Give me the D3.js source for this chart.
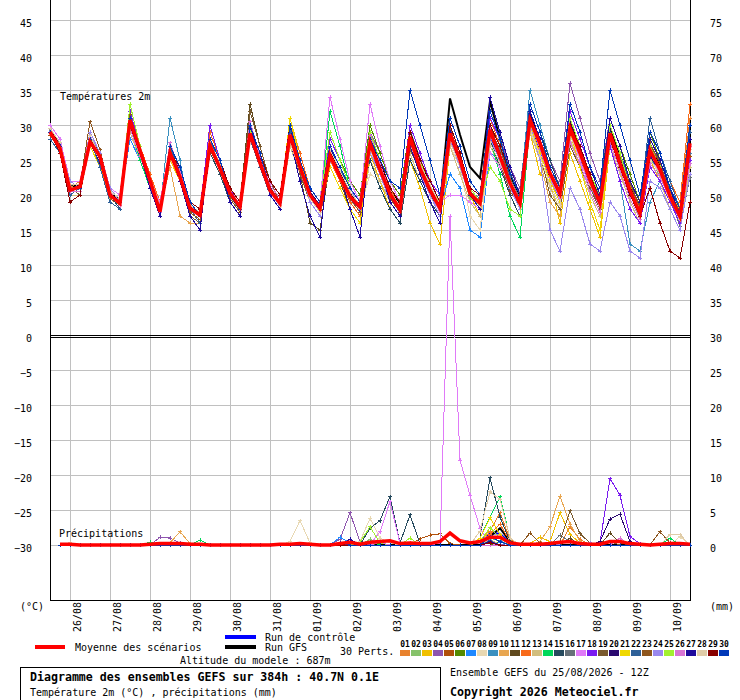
<!DOCTYPE html>
<html>
<head>
<meta charset="utf-8">
<script src="https://cdn.jsdelivr.net/npm/d3@7/dist/d3.min.js"></script>
<style>
  body { margin: 0; background: #fff; }
  text { font-family: "DejaVu Sans Mono", monospace; font-size: 10px; fill: #000; }
</style>
</head>
<body>
<svg></svg>
<script>
// time axis : 65 steps of 6h from 25/08 12Z
const dateLabels = ['26/08','27/08','28/08','29/08','30/08','31/08','01/09','02/09','03/09','04/09','05/09','06/09','07/09','08/09','09/09','10/09'];
const dateSteps = [2,6,10,14,18,22,26,30,34,38,42,46,50,54,58,62];
const tempTicks = [45,40,35,30,25,20,15,10,5,0,-5,-10,-15,-20,-25,-30];
const rightLabels = [75,70,65,60,55,50,45,40,35,30,25,20,15,10,5,0];
const memberNames = ['01','02','03','04','05','06','07','08','09','10','11','12','13','14','15','16','17','18','19','20','21','22','23','24','25','26','27','28','29','30'];
const memberColors = ['#e8822e','#86c26a','#f0c000','#8e55ae','#b0500a','#558a00','#1e88ff','#e8d8b2','#3a90c0','#e8a650',
  '#604a1e','#f86a1a','#d2be7e','#00d85a','#264a5e','#667078','#e07af8','#7a1af0','#7a5a2e','#2a0870',
  '#f0d800','#2e6098','#8e561e','#9a88ee','#a2f030','#d874d4','#1e0a9c','#e0cca8','#880000','#0038b8'];

// 2m temperature (°C), one row per perturbation
const memberTemp = [
  [29,27,21,22, 28,26,20,19, 31,27,22,18, 27,24,19,17, 28,24,21,19, 30,26,21,19, 29,25,20,18, 27,24,21,19, 28,25,21,18, 29,25,21,19, 30,26,21,19, 30,27,23,20, 32,28,24,21, 31,27,23,20, 30,26,22,18, 28,25,21,18, 31],
  [28.5,26.5,20.5,20.5, 27.5,24.5,19.5,18.5, 31.5,26.5,21.5,17.5, 25.5,22.5,17.5,16.5, 26.5,23.5,19.5,17.5, 28.5,24.5,20.5,18.5, 28.5,23.5,19.5,17.5, 25.5,22.5,19.5,17.5, 26.5,23.5,19.5,17.5, 27.5,23.5,20.5,17.5, 28.5,24.5,19.5,18.5, 28.5,25.5,21.5,18.5, 30.5,26.5,22.5,19.5, 29.5,25.5,21.5,18.5, 28.5,24.5,20.5,16.5, 25.5,22.5,19.5,16.5, 26.5],
  [29,27,21,21, 28,25,20,19, 30,26,22,18, 25,22,18,17, 27,24,20,18, 30,26,21,19, 31,26,21,19, 26,22,19,17, 26,22,18,16, 25,21,16,13, 27,24,20,17, 30,26,21,18, 29,23,22,16, 26,22,18,14, 27,23,20,17, 25,22,19,16, 24],
  [29,27,22,21, 29,26,21,20, 31,27,23,19, 27,24,19,18, 28,25,21,19, 30,26,22,20, 30,26,21,19, 28,25,21,19, 29,26,22,19, 30,26,22,19, 31,27,22,20, 31,28,24,21, 33,29,25,22, 36,31,26,22, 31,27,23,19, 28,25,21,18, 29],
  [28.5,26.5,20.5,20.5, 27.5,24.5,19.5,18.5, 30.5,25.5,21.5,17.5, 25.5,22.5,17.5,16.5, 26.5,23.5,19.5,17.5, 28.5,24.5,20.5,18.5, 27.5,23.5,19.5,17.5, 25.5,22.5,19.5,17.5, 27.5,23.5,19.5,17.5, 27.5,23.5,20.5,17.5, 28.5,24.5,20.5,18.5, 28.5,25.5,21.5,18.5, 30.5,26.5,22.5,19.5, 28.5,25.5,21.5,18.5, 28.5,24.5,20.5,17.5, 26.5,23.5,20.5,17.5, 25.5],
  [29,27,21,21, 28,25,20,19, 30,25,21,18, 25,22,17,16, 26,23,19,17, 28,24,20,18, 30,25,21,19, 28,25,22,20, 30,26,22,20, 30,26,22,20, 31,27,22,20, 27,24,20,17, 29,25,21,18, 28,24,21,18, 31,27,23,19, 29,25,21,18, 29],
  [29,27,21,21, 28,25,20,19, 28,25,21,18, 26,22,18,17, 28,25,21,19, 28,24,20,18, 27,23,19,17, 26,23,19,17, 27,23,19,17, 27,24,20,18, 23,21,15,14, 26,25,21,18, 30,27,23,20, 29,26,22,19, 28,25,21,17, 26,23,20,17, 26],
  [29,27,21,21, 28,25,20,19, 30,26,22,18, 26,23,18,17, 27,24,20,18, 28,24,20,18, 28,24,20,18, 26,23,19,18, 23,22,19,17, 27,24,20,18, 27,24,17,15, 27,24,20,17, 29,26,22,19, 28,25,21,18, 27,24,20,17, 25,23,19,16, 26],
  [29,27,20,21, 28,25,20,19, 31,27,22,18, 31,25,17,15, 27,24,20,18, 29,25,21,19, 29,24,20,18, 26,23,20,18, 27,24,20,18, 29,25,21,18, 29,25,20,19, 30,27,23,20, 35,30,25,21, 31,27,22,19, 27,22,13,12, 19,22,19,16, 26],
  [29,27,21,21, 28,25,20,19, 30,26,22,18, 24,17,16,16, 26,23,19,17, 29,25,21,19, 27,23,19,17, 26,23,19,17, 28,25,21,19, 29,25,21,18, 28,24,20,18, 29,26,22,19, 29,25,19,17, 29,26,22,19, 29,25,21,17, 26,24,20,17, 28],
  [29,27,21,21, 28,26,20,19, 31,27,22,18, 27,24,19,17, 28,25,21,19, 33,27,22,19, 29,23,16,15, 25,22,18,16, 27,23,19,17, 28,24,20,18, 29,25,21,19, 30,26,22,19, 31,27,23,20, 30,26,22,19, 29,25,21,17, 27,24,20,17, 27],
  [29,27,22,22, 29,26,21,20, 32,27,23,19, 27,24,19,18, 29,25,21,19, 30,26,21,19, 30,26,21,19, 25,22,19,17, 27,24,21,19, 29,25,21,19, 30,26,21,19, 31,27,23,20, 30,26,22,19, 31,27,23,20, 30,26,22,18, 29,26,22,19, 33],
  [28,26,20,20, 27,24,19,18, 29,25,21,17, 25,22,17,16, 26,23,19,17, 28,24,20,18, 27,23,19,17, 24,21,18,16, 25,22,19,17, 26,22,19,16, 27,23,19,17, 27,24,20,17, 29,25,21,18, 28,24,20,17, 27,23,19,16, 24,22,18,15, 24],
  [29,27,21,21, 29,26,21,20, 30,25,21,17, 27,24,19,18, 28,25,21,19, 29,25,21,19, 29,24,20,18, 32,27,21,19, 28,24,20,18, 28,25,21,18, 29,25,20,18, 28,23,17,14, 30,27,23,20, 30,26,22,19, 29,25,21,17, 26,24,20,17, 27],
  [29,27,21,21, 28,25,20,18, 30,26,21,17, 25,22,17,16, 26,23,19,17, 30,26,22,20, 30,25,21,19, 27,24,21,19, 25,21,18,16, 25,22,19,17, 30,26,21,20, 28,24,20,17, 33,29,25,21, 32,28,24,21, 31,27,22,19, 28,25,21,18, 29],
  [29.5,27.5,21.5,21.5, 28.5,25.5,20.5,19.5, 30.5,25.5,21.5,17.5, 26.5,23.5,18.5,17.5, 27.5,24.5,20.5,18.5, 29.5,25.5,21.5,19.5, 29.5,24.5,20.5,18.5, 26.5,23.5,20.5,18.5, 27.5,24.5,20.5,18.5, 28.5,24.5,21.5,18.5, 29.5,25.5,20.5,19.5, 29.5,26.5,22.5,19.5, 30.5,26.5,22.5,19.5, 29.5,25.5,21.5,18.5, 27.5,23.5,19.5,16.5, 25.5,23.5,19.5,15.5, 22.5],
  [30,28,22,22, 29,26,21,20, 31,27,22,19, 27,24,19,18, 28,25,21,19, 30,26,22,20, 30,25,21,19, 34,28,22,19, 33,27,22,19, 28,25,21,19, 20,20,19,18, 26,24,21,18, 30,26,22,19, 29,25,21,18, 28,24,20,17, 26,23,20,17, 27],
  [29,27,22,21, 29,26,21,19, 32,27,22,18, 27,24,19,18, 30,25,21,18, 30,26,22,20, 30,25,21,19, 28,25,21,19, 29,25,21,19, 30,26,22,20, 31,27,22,20, 31,28,23,20, 32,28,24,21, 32,28,24,21, 27,22,18,16, 24,22,19,16, 25],
  [29,27,21,20, 28,24,19,18, 31,26,21,17, 26,22,17,16, 27,24,19,17, 32,27,22,19, 28,23,19,17, 24,21,18,16, 26,23,19,17, 27,23,20,17, 28,24,20,18, 30,27,22,19, 30,26,20,18, 27,24,21,18, 30,26,22,18, 27,25,21,18, 30],
  [29.5,26.5,20.5,20.5, 27.5,24.5,20.5,19.5, 30.5,25.5,21.5,17.5, 26.5,23.5,18.5,17.5, 26.5,23.5,19.5,17.5, 29.5,25.5,21.5,19.5, 29.5,24.5,20.5,18.5, 26.5,23.5,20.5,18.5, 27.5,24.5,20.5,18.5, 27.5,23.5,20.5,17.5, 28.5,24.5,20.5,18.5, 29.5,25.5,21.5,18.5, 31.5,27.5,23.5,20.5, 30.5,26.5,22.5,19.5, 29.5,24.5,19.5,16.5, 25.5,23.5,19.5,16.5, 26.5],
  [29,27,21,21, 27,24,20,19, 30,26,22,18, 25,22,18,17, 27,24,20,18, 29,25,21,19, 31,25,20,18, 24,21,18,16, 26,23,19,17, 27,23,20,17, 30,26,21,19, 28,25,21,18, 30,26,22,19, 29,24,19,15, 28,24,20,17, 26,24,20,18, 30],
  [28,26,20,21, 28,24,19,18, 30,26,21,17, 27,23,18,16, 28,24,20,18, 28,24,20,18, 29,25,21,19, 27,24,20,18, 28,25,21,19, 29,25,21,19, 30,26,21,19, 30,27,23,20, 32,28,24,21, 31,27,23,20, 30,26,22,19, 31,26,22,18, 29],
  [29.5,27.5,21.5,21.5, 30.5,26.5,20.5,18.5, 31.5,26.5,21.5,17.5, 26.5,22.5,17.5,16.5, 26.5,23.5,19.5,17.5, 28.5,24.5,20.5,18.5, 28.5,23.5,19.5,17.5, 25.5,22.5,19.5,17.5, 27.5,23.5,19.5,17.5, 26.5,23.5,20.5,18.5, 28.5,24.5,20.5,18.5, 27.5,24.5,20.5,18.5, 29.5,25.5,21.5,18.5, 28.5,25.5,21.5,18.5, 28.5,25.5,21.5,18.5, 27.5,24.5,20.5,17.5, 24.5],
  [29,27,22,21, 29,26,21,19, 31,27,22,18, 26,23,19,18, 27,24,21,19, 30,26,21,19, 28,24,19,17, 27,24,21,18, 26,23,19,17, 27,23,20,17, 28,24,20,18, 28,25,21,18, 30,25,15,12, 21,18,13,12, 19,17,12,11, 22,21,18,15, 23],
  [29,27,21,21, 28,25,20,19, 33,27,22,18, 27,24,19,17, 27,24,20,18, 29,25,21,19, 30,25,21,19, 29,25,21,19, 29,25,21,19, 29,25,21,19, 30,26,21,19, 24,22,18,17, 30,27,23,20, 31,27,23,20, 30,26,21,18, 27,24,20,17, 28],
  [29.5,26.5,20.5,20.5, 28.5,25.5,20.5,18.5, 29.5,25.5,21.5,17.5, 27.5,23.5,18.5,17.5, 27.5,24.5,20.5,18.5, 30.5,25.5,21.5,19.5, 28.5,23.5,19.5,17.5, 26.5,23.5,20.5,18.5, 28.5,24.5,20.5,18.5, 27.5,23.5,20.5,17.5, 27.5,24.5,20.5,18.5, 29.5,25.5,21.5,18.5, 30.5,26.5,22.5,19.5, 27.5,24.5,20.5,17.5, 27.5,23.5,19.5,16.5, 24.5,22.5,19.5,16.5, 24.5],
  [29,27,21,21, 28,25,20,19, 31,26,21,17, 26,22,17,15, 27,24,19,17, 30,25,20,18, 28,22,17,14, 27,23,18,14, 28,24,19,17, 27,23,19,16, 29,25,20,18, 34,29,24,20, 32,28,23,20, 33,29,24,20, 31,27,22,19, 28,25,21,17, 28],
  [29.5,27.5,21.5,21.5, 28.5,25.5,20.5,19.5, 30.5,26.5,22.5,18.5, 25.5,22.5,18.5,17.5, 27.5,24.5,20.5,18.5, 28.5,24.5,20.5,18.5, 27.5,23.5,19.5,17.5, 26.5,23.5,20.5,18.5, 26.5,23.5,20.5,18.5, 28.5,24.5,21.5,18.5, 27.5,24.5,20.5,18.5, 27.5,24.5,21.5,18.5, 29.5,25.5,21.5,18.5, 28.5,25.5,21.5,18.5, 28.5,24.5,20.5,17.5, 26.5,23.5,19.5,16.5, 26.5],
  [29,26,19,20, 28,25,20,19, 30,26,22,18, 26,24,19,18, 28,25,21,19, 30,26,22,20, 30,25,21,19, 27,24,21,19, 28,25,21,19, 29,25,22,19, 30,26,21,20, 30,27,23,20, 31,27,23,20, 30,27,23,19, 28,24,20,17, 21,16,12,11, 19],
  [29,27,21,21, 28,25,20,19, 31,26,22,18, 27,24,19,17, 28,25,20,18, 30,26,21,19, 30,25,21,19, 27,24,21,19, 28,25,22,21, 35,30,25,20, 31,27,22,20, 32,28,23,20, 33,29,24,21, 33,29,24,21, 35,30,25,20, 29,26,21,18, 30]
];
const ctlTemp = [29.2,26.8,20.8,21.0, 27.8,25.4,20.2,18.8, 30.6,26.2,21.8,17.6, 26.4,22.8,18.2,17.0, 27.4,24.0,20.4,18.4, 28.6,24.6,20.6,18.6, 28.4,23.6,19.8,17.8, 25.2,22.4,19.6,17.8, 26.8,23.4,19.8,17.6, 27.6,23.6,20.4,17.8, 28.2,24.4,20.0,18.6, 28.6,25.2,21.4,18.6, 30.2,26.6,22.6,19.6, 29.4,25.6,21.6,18.6, 28.6,24.4,20.4,17.0, 25.6,23.4,19.6,16.6, 26.8];
const gfsTemp = [29.4,27.0,21.2,21.4, 28.2,25.6,20.4,19.2, 31.0,26.6,22.2,18.0, 26.2,23.0,18.4,17.2, 27.0,24.2,20.0,18.0, 29.2,25.0,21.0,18.8, 29.0,24.2,20.2,18.2, 26.4,23.2,20.2,18.2, 28.2,24.6,20.8,18.6, 29.0,25.0,21.2,18.4, 33.8,28.6,24.0,22.4, 33.4,28.0,23.0,19.6, 31.6,27.4,23.2,20.4, 30.4,26.6,22.6,19.4, 29.4,25.4,21.2,17.6, 26.8,24.2,20.4,17.2, 27.6];
const meanTemp = [29.0,26.7,20.7,21.2, 27.6,25.5,20.0,18.8, 30.7,26.4,22.1,17.6, 26.0,22.6,18.1,17.1, 27.1,23.8,20.3,18.3, 28.8,24.6,20.7,18.8, 28.6,24.0,20.0,18.1, 25.7,22.6,19.8,18.3, 27.4,23.6,20.2,17.9, 28.3,23.8,20.7,18.1, 28.8,25.0,20.2,18.8, 29.3,25.5,21.7,18.8, 30.7,27.4,23.1,20.2, 29.5,26.0,22.1,18.8, 28.8,24.5,20.7,17.4, 26.4,23.6,19.8,16.9, 27.4];

// 6h precipitation (mm), 64 steps from 25/08 18Z
const memberRain = [
  [0,0,0,0,0,0,0,0, 0,0,0,0,0,0,0,0, 0,0,0,0,0,0,0,0, 0,0,0,0,0,0,0,0, 0,0,0,0.3,0,0,0,0, 0,0,0,2,4.6,0.8,0,0, 0,0,0,2.6,0.8,0,0,0, 0,0,0,0,0,0,0,0],
  [0,0,0,0,0,0,0,0, 0,0,0,0,0,0,0,0, 0,0,0,0,0,0,0,0, 0,0,0,0,0,0,0,0.8, 0,0,0,0,0,0,0,0, 0,0,0,1,0.5,0,0,0, 0,0,0,0,0,0,0,0, 0,0,0,0,0,0,0,0],
  [0,0,0,0,0,0,0,0, 0,0,0,0,0,0,0,0, 0,0,0,0,0,0,0,0, 0,0,0,0,0,0,0,0, 0,0,0,0,0,0,0,0, 0,0,0,2.5,1,0,0,0.2, 1.1,0.5,4.6,1.5,0.3,0,0,0, 0,0,0,0,0,0,0,0],
  [0,0,0,0,0,0,0,0, 0,0,1.1,1,0.3,0,0,0, 0,0,0,0,0,0,0,0, 0,0,0,0,0.8,4.6,0.5,0, 0,0,0,0,0,0,0,0, 0,0,0,0,0,0.3,0,0, 0,0,0,0,0,0,0,0, 0,0,0,0,0,0,0,0],
  [0,0,0,0,0,0,0,0, 0,0,0,0,0,0,0,0, 0,0,0,0,0,0,0,0, 0,0,0,0,0,0,0,0, 0,0,0,0,0.9,1.4,1.6,0.2, 0,0,0,0,0,0,0,0, 0,0,0,0,0,0,0,0, 0,0,0,0,0,0,0,0],
  [0,0,0,0,0,0,0,0, 0,0,0,0,0,0,0,0, 0,0,0,0,0,0,0,0, 0,0,0,0,0,0,0,0, 0.3,0,0,0,0,0,0,0, 0,0,0,0,0.5,0,0,0, 0,0,0,0,0,0,0,0, 0,0,0,0,0,0,0,0],
  [0,0,0,0,0,0,0,0, 0,0,0,0,0,0,0,0, 0,0,0,0,0,0,0,0, 0,0,0,0,1.1,0.3,0,0, 0,0,0,0,0,0,0,0, 0,0,0,1.5,0.4,0,0,0, 0,0,0,0,0,0,0,0, 0,0,0,0,0,0,0,0],
  [0,0,0,0,0,0,0,0, 0,0,0,0,0,0,0,0, 0,0,0,0,0,0,0,0.5, 3.5,0.3,0,0,0,0,0.5,3.8, 1,0.3,0,0,0,0,0,0, 0,0,0,0,0,0,0,0, 0,0,0,0,0,0,0,0, 0,0,0,0,0,0,1.2,0],
  [0,0,0,0,0,0,0,0, 0,0,0,0,0,0,0,0, 0,0,0,0,0,0,0,0, 0,0,0,0,0,0,0,0, 0,0,0,0,0,0,0,0, 0,0,0,1,0.6,0,0,0, 0,0,0,0,0,0,0,0, 0,0,0,0,0,0,0,0],
  [0,0,0,0,0,0,0,0, 0,0,0,0.3,1.9,0.2,0,0, 0,0,0,0,0,0,0,0, 0,0,0,0,0,0,0,0, 0,0,0,0,0,0,0,0, 0,0,0,0,0,0,0,0, 0.5,2.6,7,3,0.5,0,0,0, 0,0,0,0,0,0,0,0],
  [0,0,0,0,0,0,0,0, 0,0,0,0,0,0,0,0, 0,0,0,0,0,0,0,0, 0,0,0,0,0,0,0,0, 0,0,0,0,0,0,0,0, 0,0,0,0,0,0,0,0, 0,0,0,1,0,0,0,1.7, 0.3,0,0,0,0,0,0,0],
  [0,0,0,0,0,0,0,0, 0,0,0,0,0,0,0,0, 0,0,0,0,0,0,0,0, 0,0,0,0,0,0,0,0, 0,0,0,0,0,0,0,0, 0,0,0,1.5,3,0.5,0,0, 0,0,0,0,0,0,0,0, 0,0,0,0,0,0,0,0],
  [0,0,0,0,0,0,0,0, 0,0,0,0,0,0,0,0, 0,0,0,0,0,0,0,0, 0,0,0,0,0,0,0,0, 0,0,0,0,0,0,0,0, 0,0,0,0.8,0,0,0,0, 0,0,0,0,0,0,0,0, 0,0,0,0,0,0,0,0],
  [0,0,0,0,0,0,0,0, 0,0.4,0,0,0,0,0.7,0, 0,0,0,0,0,0,0,0, 0,0,0,0,0,0,0,0.5, 0,0,0,0,0,0,0,0, 0,0,1,4,6.9,1,0,0, 0,0,0,0,0,0,0,0, 0,0,0,0,0,1,0,0],
  [0,0,0,0,0,0,0,0, 0,0,0,0,0,0,0,0, 0,0,0,0,0,0,0,0, 0,0,0,0,0,0,0,2.4, 3.5,6.9,0.3,4.3,0.2,0,0,0, 0,0,1,9.6,4,0.5,0,0, 0,0,0,0,0,0,0,0, 0,0,0,0,0,0,0,0],
  [0,0,0,0,0,0,0,0, 0,0,0,0,0,0,0,0, 0,0,0,0,0,0,0,0, 0,0,0,0,0,0,0,0, 0,0,0,0,0,0,0,0, 0,0,0,0,0,0,0,0, 0,0,1.4,0.5,0,0,0,0, 0,0,0,0,0,0,0,0],
  [0,0,0,0,0,0,0,0, 0,0,0,0,0,0,0,0, 0,0,0,0,0,0,0,0, 0,0,0,0,0,0,0,0, 1.9,6.2,0.2,0,0,0,0.3,47, 12.1,7.1,2.4,0.2,0,0,0,0, 0,0,0,0,0,0,0,0, 0,0,0,0,0,0,0,0],
  [0,0,0,0,0,0,0,0, 0,0,0,0,0,0,0,0, 0,0,0,0,0,0,0,0, 0,0,0,0,0,0,0,0, 0,0,0,0,0,0,0,0, 0,0,0,0,0,0,0,0, 0,0,0,0,0,0,0.3,9.5, 7.1,1.2,0.2,0,0,0,0,0],
  [0,0,0,0,0,0,0,0, 0,0,0,0,0,0,0,0, 0,0,0,0,0,0,0,0, 0,0,0,0,0,0,0,0, 0,0,0,0,0,0,0,0, 0,0,0,0,0,0,0,0, 0,0,0.5,4.9,1.6,0.3,0,0.5, 0,0,0,0,0,0,0,0],
  [0,0,0,0,0,0,0,0, 0,0,0,0,0,0,0,0, 0,0,0,0,0,0,0,0, 0,0,0,0,0,0,0,0, 0,0,0,0,0,0,0,0, 0,0,0,0,0,0,0,0, 0,0,0,0,0,0,0.5,3.7, 4.4,0.5,0,0,0,0,0,0],
  [0,0,0,0,0,0,0,0, 0,0,0,0,0,0,0,0, 0,0,0,0,0,0,0,0, 0,0,0,0,0,0,0,0, 0,0,0,0,0,0,0,0, 0,0,1,3.9,1.5,0,0,0, 0,0,0,0,0,0,0,0, 0,0,0,0,0,0,0,0],
  [0,0,0,0,0,0,0,0, 0,0,0,0,0,0,0,0, 0,0,0,0,0,0,0,0, 0,0,0,0,0,0,0,0, 0,0,0,0,0,0,0,0, 0,0,0,0.6,0,0,0,0, 0,0,0,0,0,0,0,0, 0,0,0,0,0,0,0,0],
  [0,0,0,0,0,0,0,0, 0,0,0,0,0,0,0,0, 0,0,0,0,0,0,0,0, 0,0,0,0,0,0,0,0, 0,0,0,0,0,0,0,0, 0,0,0,0,0,0,0,1.7, 0.3,0,0,0,0,0,0,0, 0,0,0,0,1.9,0.3,0,0],
  [0,0,0,0,0,0,0,0, 0,0,0,0,0,0,0,0, 0,0,0,0,0,0,0,0, 0,0,0,0,0,0,0,0, 0,0,0,0,0,0,0,0, 0,0,0,0,0,0,0,0, 0,0.4,0,0,0,0.3,0,0, 0,0,0,0,0,0,0,0],
  [0,0,0,0,0,0,0,0, 0,0,0,0,0,0,0,0, 0,0,0,0,0,0,0,0, 0,0,0,0,0,0,0.4,2.6, 0.3,0,0,1,0,0,0,0, 0,0,0.5,2.5,1,0,0,0, 0,0,0,0,0,0,0,0, 0,0,0,0,0,0,0,0],
  [0,0,0,0,0,0,0,0, 0,0,0,0,0,0,0,0, 0,0,0,0,0,0,0,0, 0,0,0,0,0,0,0,0, 0.4,0,0,0,0,0,0,0, 0,0,0,0,0,0,0,0, 0,0,0,0,0,0,0,0, 1,0,0,0,0,0,0,0],
  [0,0,0,0,0,0,0,0, 0,0,0,0,0,0,0,0, 0,0,0,0,0,0,0,0, 0,0,0,0,0,0.8,0,0, 0,0,0,0,0,0,0,0, 0,0,0,0.5,0,0,0,0, 0,0,0,0,0,0,0,0, 0,0,0,0,0,0,0,0],
  [0,0.3,0,0,0,0,0,0, 0,0,0,0,0,0,0,0, 0,0,0,0,0,0,0,0, 0,0,0,0,0,0,0,0, 0,0,0,0,0,0,0,0, 0,0,2,7.6,6.5,1,0,0, 0,0,0,0,0,0,0,0, 0,0,0,0,0,1.5,1.5,0],
  [0,0,0,0,0,0,0,0, 0,0,0,0,0,0,0,0, 0,0,0,0,0,0,0,0, 0,0,0,0,0,0,0,0, 0,0,0,0,0,0,0,0, 0,0,0,0.3,0,0,0,0, 0,0,0,0,0,0,0,0, 0,0,0,0,0,0,0,0],
  [0,0,0,0,0,0,0,0, 0,0,0,0,0,0,0,0, 0,0,0,0,0,0,0,0, 0,0,0,0,0.3,0,0,0, 0,0,0,0,0,0,0,0, 0,0,0,1.2,0.5,0,0,0, 0,0,0,0,0,0,0,0, 0,0,0,0,0,0,0,0]
];
const ctlRain = [0,0,0,0,0,0,0,0, 0,0,0,0,0,0,0,0, 0,0,0,0,0,0,0,0, 0,0,0,0,0,0.2,0,0, 0,0,0,0,0,0,0,0, 0,0,0.5,1.7,1.6,0.3,0,0, 0,0,0,0,0,0,0,0, 0,0,0,0,0,0,0,0];
const gfsRain = [0,0,0,0,0,0,0,0, 0,0,0,0,0,0,0,0, 0,0,0,0,0,0,0,0, 0,0,0,0,0,0,0,0, 0,0,0,0,0,0,0,0, 0,0,0,1.2,2.4,0.5,0,0, 0,0,0,0,0,0,0,0, 0,0,0,0,0,0,0,0];
const meanRain = [0.1,0.1,0,0,0,0,0,0, 0,0.1,0.2,0.2,0.2,0.1,0.1,0, 0,0,0,0,0,0,0.1,0.1, 0.2,0.1,0,0,0.2,0.4,0.1,0.4, 0.5,0.6,0.2,0.3,0.2,0.2,0.5,1.7, 0.6,0.3,0.5,1.1,1.1,0.3,0.1,0.1, 0.1,0.2,0.4,0.5,0.2,0.1,0.1,0.5, 0.5,0.2,0.1,0,0.1,0.2,0.2,0.1];

const svg = d3.select('svg').attr('width', 740).attr('height', 700);

const x = d3.scaleLinear().domain([0, 64]).range([50, 690]);
const yT = d3.scaleLinear().domain([0, 45]).range([335, 20]);
const yP = d3.scaleLinear().domain([0, 30]).range([545, 335]);

// grid
const grid = svg.append('g').attr('stroke', '#c0c0c0').attr('shape-rendering', 'crispEdges');
grid.selectAll('.h').data(tempTicks.filter(d => d !== 0)).join('line')
  .attr('x1', 50).attr('x2', 690)
  .attr('y1', d => yT(d) + 0.5).attr('y2', d => yT(d) + 0.5);
grid.selectAll('.v').data(dateSteps).join('line')
  .attr('x1', d => x(d) + 0.5).attr('x2', d => x(d) + 0.5)
  .attr('y1', 0).attr('y2', 600);

// frame
const frame = svg.append('g').attr('stroke', '#000').attr('shape-rendering', 'crispEdges');
frame.append('line').attr('x1', 50.5).attr('x2', 50.5).attr('y1', 0).attr('y2', 600);
frame.append('line').attr('x1', 690.5).attr('x2', 690.5).attr('y1', 0).attr('y2', 601);
frame.append('line').attr('x1', 50).attr('x2', 691).attr('y1', 600.5).attr('y2', 600.5);
frame.append('line').attr('x1', 50).attr('x2', 691).attr('y1', yT(0) + 0.5).attr('y2', yT(0) + 0.5);
frame.append('line').attr('x1', 50).attr('x2', 691).attr('y1', yT(0) + 2.5).attr('y2', yT(0) + 2.5);

// axes
const leftAxis = svg.append('g').attr('transform', 'translate(50,3)')
  .call(d3.axisLeft(yT).tickValues(tempTicks).tickSize(0).tickPadding(18));
const rightAxis = svg.append('g').attr('transform', 'translate(690,3)')
  .call(d3.axisRight(yT).tickValues(tempTicks).tickSize(0).tickPadding(20)
    .tickFormat((d, i) => rightLabels[i]));
[leftAxis, rightAxis].forEach(a => {
  a.select('.domain').remove();
  a.attr('font-family', null).attr('font-size', null);
});

svg.append('g').selectAll('text').data(dateSteps).join('text')
  .attr('transform', d => `translate(${x(d) + 11},632) rotate(-90)`)
  .text((d, i) => dateLabels[i]);

svg.append('text').attr('x', 20).attr('y', 610).text('(°C)');
svg.append('text').attr('x', 710).attr('y', 610).text('(mm)');
svg.append('text').attr('x', 60).attr('y', 100).text('Températures 2m');
svg.append('text').attr('x', 59).attr('y', 537).text('Précipitations');

// series
const tLine = d3.line().x((d, i) => x(i)).y(d => yT(d));
const pLine = d3.line().x((d, i) => x(i + 1)).y(d => yP(d));

function plus(px, py) {
  return `M${px - 2},${py}h4M${px},${py - 2}v4`;
}

// control and GFS runs sit under the perturbations
const runs = svg.append('g').attr('fill', 'none');
runs.append('path').attr('d', tLine(ctlTemp)).attr('stroke', '#0000ff').attr('stroke-width', 2);
runs.append('path').attr('d', tLine(gfsTemp)).attr('stroke', '#000').attr('stroke-width', 2);
runs.append('path').attr('d', pLine(ctlRain)).attr('stroke', '#0000ff').attr('stroke-width', 2);
runs.append('path').attr('d', pLine(gfsRain)).attr('stroke', '#000').attr('stroke-width', 2);

const members = svg.append('g').attr('fill', 'none').attr('shape-rendering', 'crispEdges');
memberTemp.forEach((vals, k) => {
  const g = members.append('g').attr('stroke', memberColors[k]);
  g.append('path').attr('d', tLine(vals));
  g.append('path').attr('d', vals.map((d, i) => plus(x(i), yT(d))).join(''));
});
memberRain.forEach((vals, k) => {
  const g = members.append('g').attr('stroke', memberColors[k]);
  g.append('path').attr('d', pLine(vals));
  g.append('path').attr('d', vals.map((d, i) => plus(x(i + 1), yP(d))).join(''));
});

const mains = svg.append('g').attr('fill', 'none');
mains.append('path').attr('d', tLine(meanTemp)).attr('stroke', '#ff0000').attr('stroke-width', 3.5);
mains.append('path').attr('d', pLine(meanRain)).attr('stroke', '#ff0000').attr('stroke-width', 3.5);

// legend
const leg = svg.append('g');
leg.append('line').attr('x1', 35).attr('x2', 65).attr('y1', 647).attr('y2', 647).attr('stroke', '#ff0000').attr('stroke-width', 4);
leg.append('text').attr('x', 75).attr('y', 650.5).text('Moyenne des scénarios');
leg.append('line').attr('x1', 225).attr('x2', 256).attr('y1', 637).attr('y2', 637).attr('stroke', '#0000ff').attr('stroke-width', 4);
leg.append('text').attr('x', 265).attr('y', 640.5).text('Run de contrôle');
leg.append('line').attr('x1', 225).attr('x2', 256).attr('y1', 647).attr('y2', 647).attr('stroke', '#000').attr('stroke-width', 4);
leg.append('text').attr('x', 265).attr('y', 650.5).text('Run GFS');
leg.append('text').attr('x', 340).attr('y', 655).text('30 Perts.');
leg.append('text').attr('x', 180).attr('y', 663.5).text('Altitude du modele : 687m');

leg.selectAll('.num').data(memberNames).join('text')
  .attr('x', (d, i) => 405 + 11 * i).attr('y', 647)
  .attr('text-anchor', 'middle')
  .style('font-size', '8px').style('font-weight', 'bold')
  .text(d => d);
leg.selectAll('rect').data(memberColors).join('rect')
  .attr('x', (d, i) => 400 + 11 * i).attr('y', 650)
  .attr('width', 10).attr('height', 6)
  .attr('fill', d => d);

svg.append('rect').attr('x', 20.5).attr('y', 667.5).attr('width', 420).attr('height', 34)
  .attr('fill', 'none').attr('stroke', '#000');
svg.append('text').attr('x', 30).attr('y', 681)
  .style('font-size', '11.6px').style('font-weight', 'bold')
  .text('Diagramme des ensembles GEFS sur 384h : 40.7N 0.1E');
svg.append('text').attr('x', 30).attr('y', 696).text('Température 2m (°C) , précipitations (mm)');
svg.append('text').attr('x', 450).attr('y', 676).text('Ensemble GEFS du 25/08/2026 - 12Z');
svg.append('text').attr('x', 450).attr('y', 695.5)
  .style('font-size', '11.6px').style('font-weight', 'bold')
  .text('Copyright 2026 Meteociel.fr');
</script>
</body>
</html>
